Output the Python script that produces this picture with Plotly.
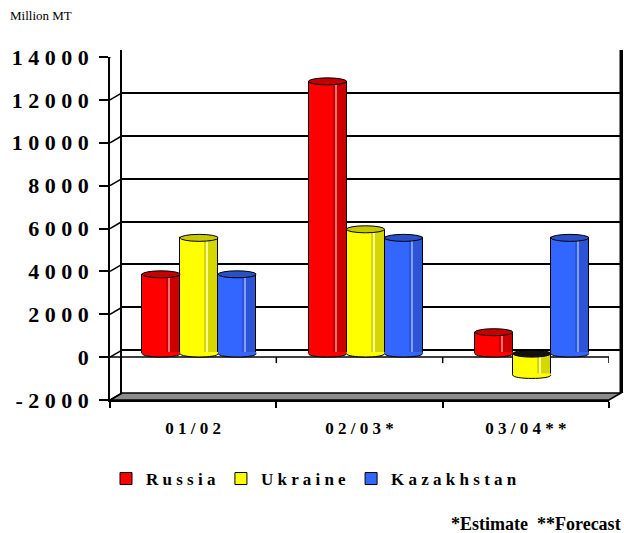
import plotly.graph_objects as go

# ---- data -----------------------------------------------------------------
categories = ["01/02", "02/03*", "03/04**"]
series_names = ["Russia", "Ukraine", "Kazakhstan"]
russia = [3700, 12700, 1000]
ukraine = [5400, 5800, -1000]
kazakhstan = [3700, 5400, 5400]
y_ticks = [-2000, 0, 2000, 4000, 6000, 8000, 10000, 12000, 14000]

series_values = [russia, ukraine, kazakhstan]

# ---- styling --------------------------------------------------------------
face_colors = ["#FF0000", "#FFFF00", "#3366FF"]
shade_colors = ["#CC0000", "#D6D600", "#2B55D6"]
glint_colors = ["#FF7070", "#FFFF99", "#7F9FFF"]
cap_colors = ["#C40000", "#C8C800", "#2A50C8"]
FONT = "Liberation Serif"

W, H = 624, 533
# front face of the 3-D box (pixels) and the depth offset of the back wall
FX0, FX1 = 110, 609
FY_TOP, FY_BOT = 57, 400
DEPTH_X, DEPTH_Y = 12, 7

Y_MIN, Y_MAX = -2000, 14000
X_MIN, X_MAX = -0.5, 2.5

PX_PER_CAT = (FX1 - FX0) / (X_MAX - X_MIN)
PX_PER_UNIT = (FY_BOT - FY_TOP) / (Y_MAX - Y_MIN)


def cat_px(p):
    return p / PX_PER_CAT


def val_px(p):
    return p / PX_PER_UNIT


def dom_x(shift):
    return [(FX0 + shift) / W, (FX1 + shift) / W]


def dom_y(shift):
    return [1 - (FY_BOT - shift) / H, 1 - (FY_TOP - shift) / H]


def paper(px, py):
    return px / W, 1 - py / H


def spaced(text):
    return " ".join(text)


BAR_W = cat_px(38)
CAP_H = val_px(7)
BOTTOM_K = val_px(4.5)
LINE = "black"

fig = go.Figure()

# empty trace so the back-wall subplot (xaxis / yaxis) gets rendered
fig.add_trace(go.Scatter(x=[], y=[], xaxis="x", yaxis="y",
                         showlegend=False, hoverinfo="skip"))

# ---- cylinders (middle depth plane: xaxis3 / yaxis3) ----------------------
shapes = []
for s, (name, vals) in enumerate(zip(series_names, series_values)):
    off = -1.5 * BAR_W + s * BAR_W
    fig.add_trace(go.Bar(
        x=categories, y=vals, name=spaced(name),
        width=BAR_W, offset=off,
        marker=dict(color=face_colors[s], line=dict(color=LINE, width=1)),
        xaxis="x3", yaxis="y3", showlegend=True,
    ))
    fig.add_trace(go.Bar(
        x=categories, y=vals, width=BAR_W * 0.36 - cat_px(1), offset=off + BAR_W * 0.64,
        marker=dict(color=shade_colors[s], line=dict(width=0)),
        xaxis="x3", yaxis="y3", showlegend=False, hoverinfo="skip",
    ))
    fig.add_trace(go.Bar(
        x=categories, y=vals, width=cat_px(1.2), offset=off + BAR_W * 0.70,
        marker=dict(color=glint_colors[s], line=dict(width=0)),
        xaxis="x3", yaxis="y3", showlegend=False, hoverinfo="skip",
    ))
    for i, v in enumerate(vals):
        xl = i + off
        xr = xl + BAR_W
        top = max(v, 0)
        base = min(v, 0)
        # rounded lower rim
        e = val_px(1.5)
        shapes.append(dict(
            type="path", xref="x3", yref="y3", layer="above",
            path=(f"M {xl},{base + e} L {xl},{base} "
                  f"C {xl},{base - BOTTOM_K} {xr},{base - BOTTOM_K} {xr},{base} "
                  f"L {xr},{base + e} Z"),
            fillcolor=face_colors[s], line=dict(width=0),
        ))
        shapes.append(dict(
            type="path", xref="x3", yref="y3", layer="above",
            path=(f"M {xl},{base} "
                  f"C {xl},{base - BOTTOM_K} {xr},{base - BOTTOM_K} {xr},{base}"),
            fillcolor="rgba(0,0,0,0)", line=dict(color=LINE, width=1),
        ))
        # elliptical top (dark opening when the column hangs below zero)
        shapes.append(dict(
            type="circle", xref="x3", yref="y3", layer="above",
            x0=xl, x1=xr, y0=top - CAP_H / 2, y1=top + CAP_H / 2,
            fillcolor=cap_colors[s] if v >= 0 else "#111111",
            line=dict(color=LINE, width=1),
        ))

# ---- box frame: floor slab and right edge of the back wall (paper coords) --
p1 = paper(FX0, FY_BOT)
p2 = paper(FX1, FY_BOT)
p3 = paper(FX1 + DEPTH_X, FY_BOT - DEPTH_Y)
p4 = paper(FX0 + DEPTH_X, FY_BOT - DEPTH_Y)
shapes.append(dict(
    type="path", xref="paper", yref="paper", layer="below",
    path=(f"M {p1[0]},{p1[1]} L {p2[0]},{p2[1]} L {p3[0]},{p3[1]} "
          f"L {p4[0]},{p4[1]} Z"),
    fillcolor="#8C8C8C", line=dict(color=LINE, width=1.5),
))
rt = paper(FX1 + DEPTH_X - 0.5, FY_TOP - DEPTH_Y)
rb = paper(FX1 + DEPTH_X - 0.5, FY_BOT - DEPTH_Y)
shapes.append(dict(
    type="line", xref="paper", yref="paper", layer="above",
    x0=rt[0], x1=rb[0], y0=rt[1], y1=rb[1], line=dict(color=LINE, width=2),
))

# ---- zero line and depth connectors (front plane: xaxis2 / yaxis2) --------
dxd = cat_px(DEPTH_X)
dyd = val_px(DEPTH_Y)
shapes.append(dict(
    type="line", xref="x2", yref="y2", layer="below",
    x0=X_MIN, x1=X_MAX, y0=0, y1=0, line=dict(color=LINE, width=1.5),
))
for k in range(len(categories)):
    xb = k + 0.5
    shapes.append(dict(
        type="line", xref="x2", yref="y2", layer="below",
        x0=xb, x1=xb, y0=0, y1=-val_px(6), line=dict(color=LINE, width=1.5),
    ))
for t in y_ticks:
    shapes.append(dict(
        type="line", xref="x2", yref="y2", layer="below",
        x0=X_MIN, x1=X_MIN + dxd, y0=t, y1=t + dyd, line=dict(color=LINE, width=1.5),
    ))

tick_font = dict(family=FONT, size=22, color="black", weight="bold")
cat_font = dict(family=FONT, size=17, color="black", weight="bold")

fig.update_layout(
    width=W, height=H, autosize=False,
    margin=dict(l=0, r=0, t=0, b=0, autoexpand=False),
    paper_bgcolor="white", plot_bgcolor="rgba(0,0,0,0)",
    barmode="overlay", bargap=0,
    shapes=shapes,
    # back wall with the gridlines
    xaxis=dict(domain=dom_x(DEPTH_X), range=[X_MIN, X_MAX], anchor="y",
               showgrid=False, zeroline=False, showline=False,
               showticklabels=False, ticks=""),
    yaxis=dict(domain=dom_y(DEPTH_Y), range=[Y_MIN, Y_MAX], anchor="x",
               tickvals=y_ticks, showgrid=True, gridcolor=LINE, gridwidth=1.5,
               showline=True, mirror=True, linecolor=LINE, linewidth=1.5,
               zeroline=False, showticklabels=False, ticks=""),
    # front edges carrying the tick labels
    xaxis2=dict(domain=dom_x(0), range=[X_MIN, X_MAX], anchor="y2",
                tickvals=list(range(len(categories))),
                ticktext=[spaced(c) for c in categories],
                ticks="", showline=True, linecolor=LINE, linewidth=1.5,
                showgrid=False, zeroline=False, tickfont=cat_font,
                ticklabelstandoff=12,
                minor=dict(tickvals=[X_MIN + k for k in range(len(categories) + 1)],
                           ticks="outside", ticklen=6, tickwidth=1.5,
                           tickcolor=LINE, showgrid=False)),
    yaxis2=dict(domain=dom_y(0), range=[Y_MIN, Y_MAX], anchor="x2",
                tickvals=y_ticks, ticktext=[spaced(str(t)) for t in y_ticks],
                ticks="outside", ticklen=9, tickwidth=1.5, tickcolor=LINE,
                showline=True, linecolor=LINE, linewidth=1.5,
                showgrid=False, zeroline=False, tickfont=tick_font,
                ticklabelstandoff=6),
    # middle plane holding the cylinders
    xaxis3=dict(domain=dom_x(DEPTH_X / 2), range=[X_MIN, X_MAX], anchor="y3",
                type="category", categoryorder="array", categoryarray=categories,
                visible=False),
    yaxis3=dict(domain=dom_y(DEPTH_Y / 2), range=[Y_MIN, Y_MAX], anchor="x3",
                visible=False),
    legend=dict(orientation="h", x=106 / W, xanchor="left",
                y=1 - 479 / H, yanchor="middle",
                font=dict(family=FONT, size=17, color="black", weight="bold"),
                bgcolor="rgba(0,0,0,0)", traceorder="normal"),
    annotations=[
        dict(text="Million MT", xref="paper", yref="paper",
             x=8 / W, y=1 - 16 / H, xanchor="left", yanchor="middle",
             showarrow=False, font=dict(family=FONT, size=13, color="black")),
        dict(text="*Estimate\u00a0 **Forecast", xref="paper", yref="paper",
             x=623 / W, y=1 - 524 / H, xanchor="right", yanchor="middle",
             showarrow=False,
             font=dict(family=FONT, size=18, color="black", weight="bold")),
    ],
)

fig.write_html("out.html")
